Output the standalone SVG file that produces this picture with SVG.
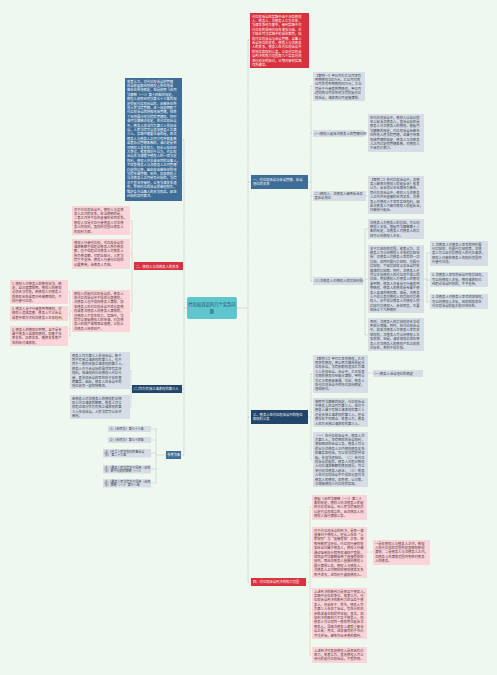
<svg xmlns="http://www.w3.org/2000/svg" width="497" height="675" viewBox="0 0 497 675">
<style>
.t{font-family:"Noto Sans CJK SC","Noto Sans",sans-serif;font-size:3.3px}
.s{font-size:3px}
.w{fill:#ffffff}
.d{fill:#38404c}
.p{fill:#5a3038}
.red{fill:#d8323e}
.blue{fill:#3e6d97}
.navy{fill:#22456b}
.gray{fill:#d6dde6}
.pink{fill:#f9d5da}
.c{fill:none;stroke:#9eabb9;stroke-width:0.6;stroke-dasharray:1 0.8}
.cr{fill:none;stroke:#e2959f;stroke-width:0.6;stroke-dasharray:1 0.8}
</style>
<rect width="497" height="675" fill="#eff8ef"/>
<g id="connectors">
<path class="c" d="M237,308H248M248,40V582M248,40H250M248,182H251M248,417H251"/>
<path class="cr" d="M248,582H251"/>
<path class="c" d="M187,308H184M184,140V455M184,140H182M184,389H182M184,455H181"/>
<path class="cr" d="M184,266H183"/>
<path class="c" d="M308,182H311M311,86V281M311,86H313M311,133H313M311,196H313M311,281H313M364,133H368M366,196H368"/>
<path class="c" d="M363,281H365M365,229V335M365,229H368M365,279H368M365,335H368M424,279H427M427,253V302M427,253H430M427,280H430M427,302H430"/>
<path class="c" d="M308,417H311M311,374V460M311,374H313M311,412H313M311,460H313M368,373H373"/>
<path class="cr" d="M306,582H310M310,507V655M310,507H312M310,552H312M310,613H312M310,655H312M367,552H373"/>
<path class="cr" d="M134,266H132M132,221V311M132,221H130M132,254H130M132,311H130M72,311H70M70,292V336M70,292H68M70,314H68M70,336H68"/>
<path class="c" d="M132,389H131M131,371V407M131,371H130M131,407H130"/>
<path class="c" d="M166,455H156M156,429V483M156,429H151M156,440H151M156,453H151M156,469H151M156,483H151"/>
</g>
<g id="center">
<rect x="187" y="297" width="50" height="22" rx="2" fill="#5ec6cc"/>
<text class="t" x="212" y="306" text-anchor="middle" style="font-size:4.3px" fill="#1d4a6e"><tspan x="212">代位权诉讼的几个实务问</tspan><tspan x="212" dy="6.5">题</tspan></text>
</g>
<g id="intro-left">
<rect class="blue" x="125" y="78" width="57" height="123"/>
<text class="t w" x="127" y="82.5"><tspan x="127">笔者认为，对代位权诉讼的管辖</tspan><tspan x="127" dy="4.4">应当依据原告即债权人所在地或</tspan><tspan x="127" dy="4.4">被告住所地确定。但是依照《合同</tspan><tspan x="127" dy="4.4">法解释（一）》第十四条的规定，</tspan><tspan x="127" dy="4.4">债权人依照合同法第七十三条的规</tspan><tspan x="127" dy="4.4">定提起代位权诉讼的，由被告住所</tspan><tspan x="127" dy="4.4">地人民法院管辖。这一规定明确了</tspan><tspan x="127" dy="4.4">代位权诉讼的特殊地域管辖，排除</tspan><tspan x="127" dy="4.4">了合同履行地法院的管辖权。同时</tspan><tspan x="127" dy="4.4">该司法解释亦规定，在代位权诉讼</tspan><tspan x="127" dy="4.4">中，债务人应当作为第三人参加诉</tspan><tspan x="127" dy="4.4">讼，人民法院可以追加债务人为第</tspan><tspan x="127" dy="4.4">三人。实践中需要注意的是，若次</tspan><tspan x="127" dy="4.4">债务人与债务人之间订有仲裁条款</tspan><tspan x="127" dy="4.4">或者协议管辖条款的，该约定是否</tspan><tspan x="127" dy="4.4">对债权人发生效力，理论上存在较</tspan><tspan x="127" dy="4.4">大争议。笔者倾向于认为，代位权</tspan><tspan x="127" dy="4.4">诉讼系法律赋予债权人的一项法定</tspan><tspan x="127" dy="4.4">权利，债权人并非该合同的当事人，</tspan><tspan x="127" dy="4.4">不应受债务人与次债务人之间管辖</tspan><tspan x="127" dy="4.4">约定的约束，因此应由被告住所地</tspan><tspan x="127" dy="4.4">法院专属管辖。另外，如果债权人</tspan><tspan x="127" dy="4.4">与次债务人之间另有纠纷的，法院</tspan><tspan x="127" dy="4.4">亦不宜合并审理，以免法律关系混</tspan><tspan x="127" dy="4.4">杂，影响代位权诉讼的审理效率，</tspan><tspan x="127" dy="4.4">维护各方当事人的合法权益，促进</tspan><tspan x="127" dy="4.4">纠纷的及时解决。</tspan></text>
</g>
<g id="n-relation">
<rect class="red" x="134" y="262" width="49" height="8"/>
<text class="t w" x="136" y="267.5">二、债权人与次债务人的关系</text>
</g>
<g id="p1">
<rect class="pink" x="72" y="206" width="58" height="29"/>
<text class="t p" x="74" y="210.5"><tspan x="74">对于代位权诉讼中，债权人与次债</tspan><tspan x="74" dy="4.4">务人之间的关系，应当明确的是，</tspan><tspan x="74" dy="4.4">二者之间并不存在直接的合同关系，</tspan><tspan x="74" dy="4.4">债权人仅是代位行使债务人对次债</tspan><tspan x="74" dy="4.4">务人的权利，其权利范围以债务人</tspan><tspan x="74" dy="4.4">的权利为限。</tspan></text>
</g>
<g id="p2">
<rect class="pink" x="72" y="239" width="58" height="30"/>
<text class="t p" x="74" y="243.5"><tspan x="74">债权人行使代位权，代位权诉讼的</tspan><tspan x="74" dy="4.4">请求数额不得超过债务人所负债务</tspan><tspan x="74" dy="4.4">额，也不得超过次债务人对债务人</tspan><tspan x="74" dy="4.4">所负债务额。对超出部分，人民法</tspan><tspan x="74" dy="4.4">院不予支持。债权人行使代位权的</tspan><tspan x="74" dy="4.4">必要费用，由债务人负担。</tspan></text>
</g>
<g id="p3">
<rect class="pink" x="72" y="290" width="58" height="42"/>
<text class="t p" x="74" y="294.5"><tspan x="74">债权人提起代位权诉讼后，债务人</tspan><tspan x="74" dy="4.4">在代位权诉讼中不得处分其债权，</tspan><tspan x="74" dy="4.4">次债务人也不得向债务人清偿。如</tspan><tspan x="74" dy="4.4">果债务人在代位权诉讼中处分其债</tspan><tspan x="74" dy="4.4">权或者次债务人向债务人清偿的，</tspan><tspan x="74" dy="4.4">对债权人不发生效力。实践中，法</tspan><tspan x="74" dy="4.4">院可以根据债权人的申请，对次债</tspan><tspan x="74" dy="4.4">务人的财产采取保全措施，以防止</tspan><tspan x="74" dy="4.4">次债务人转移财产。</tspan></text>
</g>
<g id="fl1">
<rect class="pink" x="10" y="280" width="58" height="24"/>
<text class="t p" x="12" y="284.5"><tspan x="12">1. 债权人对债务人的债权合法、确</tspan><tspan x="12" dy="4.4">定，且已届清偿期。债权人的债权</tspan><tspan x="12" dy="4.4">必须合法有效，若债权人对债务人</tspan><tspan x="12" dy="4.4">的债权无效或者已经被撤销的，不</tspan><tspan x="12" dy="4.4">得行使代位权。</tspan></text>
</g>
<g id="fl2">
<rect class="pink" x="10" y="306" width="58" height="15"/>
<text class="t p" x="12" y="310"><tspan x="12">2. 债务人怠于行使其到期债权，对</tspan><tspan x="12" dy="4.4">债权人造成损害。债务人不以诉讼</tspan><tspan x="12" dy="4.4">或者仲裁方式向次债务人主张权利。</tspan></text>
</g>
<g id="fl3">
<rect class="pink" x="10" y="326" width="58" height="20"/>
<text class="t p" x="12" y="330.5"><tspan x="12">3. 债务人的债权已到期，且不是专</tspan><tspan x="12" dy="4.4">属于债务人自身的债权，如基于扶</tspan><tspan x="12" dy="4.4">养关系、抚养关系、赡养关系等产</tspan><tspan x="12" dy="4.4">生的给付请求权。</tspan></text>
</g>
<g id="n-third">
<rect class="navy" x="132" y="385" width="50" height="8"/>
<text class="t w" x="133.5" y="390.3">(二)作为有独立请求权的第三人</text>
</g>
<g id="g1">
<rect class="gray" x="70" y="352" width="60" height="37"/>
<text class="t d" x="72" y="356.5"><tspan x="72">债务人作为第三人参加诉讼，既不</tspan><tspan x="72" dy="4.4">同于有独立请求权的第三人，也不</tspan><tspan x="72" dy="4.4">同于一般的无独立请求权的第三人。</tspan><tspan x="72" dy="4.4">债务人对于诉讼标的虽然享有实体</tspan><tspan x="72" dy="4.4">权利，但该权利已由债权人代位行</tspan><tspan x="72" dy="4.4">使，其参加诉讼的目的在于协助查</tspan><tspan x="72" dy="4.4">明事实。因此，债务人在诉讼中的</tspan><tspan x="72" dy="4.4">地位具有一定的特殊性。</tspan></text>
</g>
<g id="g2">
<rect class="gray" x="70" y="395" width="60" height="24"/>
<text class="t d" x="72" y="399.5"><tspan x="72">若债务人对次债务人的债权超过债</tspan><tspan x="72" dy="4.4">权人代位请求的数额，债务人可以</tspan><tspan x="72" dy="4.4">就超过部分作为有独立请求权的第</tspan><tspan x="72" dy="4.4">三人参加诉讼，人民法院可以合并</tspan><tspan x="72" dy="4.4">审理。</tspan></text>
</g>
<g id="n-law">
<rect class="blue" x="166" y="451" width="15" height="8"/>
<text class="t w" x="167.2" y="456.4">参考法条</text>
</g>
<g id="law1">
<rect class="gray" x="108" y="426" width="43" height="6"/>
<text class="t s d" x="109.5" y="430.2">[1]《合同法》 第七十三条</text>
</g>
<g id="law2">
<rect class="gray" x="108" y="437" width="43" height="6"/>
<text class="t s d" x="109.5" y="441.2">[2]《合同法》 第七十四条</text>
</g>
<g id="law3">
<rect class="gray" x="103" y="449" width="48" height="8.5"/>
<text class="t s d" x="104.5" y="452.5"><tspan x="104.5">[3]《中华人民共和国民事诉讼</tspan><tspan x="104.5" dy="3.6">法》 第二十三条</tspan></text>
</g>
<g id="law4">
<rect class="gray" x="103" y="465" width="48" height="8.5"/>
<text class="t s d" x="104.5" y="468.5"><tspan x="104.5">[4]《最高人民法院关于适用〈合同</tspan><tspan x="104.5" dy="3.6">法〉若干问题的解释（一）》</tspan></text>
</g>
<g id="law5">
<rect class="gray" x="103" y="479" width="48" height="8.5"/>
<text class="t s d" x="104.5" y="482.5"><tspan x="104.5">[5]《最高人民法院关于适用〈合同</tspan><tspan x="104.5" dy="3.6">法〉解释（一）》 第十八条</tspan></text>
</g>
<g id="intro-right">
<rect class="red" x="250" y="13" width="59" height="55"/>
<text class="t w" x="252" y="17.5"><tspan x="252">代位权诉讼在实践中由于涉及债权</tspan><tspan x="252" dy="4.4">人、债务人、次债务人三方主体，</tspan><tspan x="252" dy="4.4">法律关系较为复杂，审判实践中对</tspan><tspan x="252" dy="4.4">代位权的适用仍存在诸多分歧。本</tspan><tspan x="252" dy="4.4">文结合司法实践中的具体案例，拟</tspan><tspan x="252" dy="4.4">就代位权诉讼与诉讼管辖、当事人</tspan><tspan x="252" dy="4.4">诉讼地位的关系，债权人与次债务</tspan><tspan x="252" dy="4.4">人的关系，债务人在代位权诉讼中</tspan><tspan x="252" dy="4.4">的地位和权利义务，以及代位权诉</tspan><tspan x="252" dy="4.4">讼判决的效力范围等几个实务问题</tspan><tspan x="252" dy="4.4">进行初步的探讨，以期对审判实践</tspan><tspan x="252" dy="4.4">有所裨益。</tspan></text>
</g>
<g id="n-one">
<rect class="blue" x="251" y="175" width="57" height="14"/>
<text class="t w" x="253" y="180.5"><tspan x="253">一、代位权诉讼与诉讼管辖、诉讼</tspan><tspan x="253" dy="4.6">地位的关系</tspan></text>
</g>
<g id="case1">
<rect class="gray" x="313" y="72" width="52" height="29"/>
<text class="t d" x="315" y="76.5"><tspan x="315">【案例一】甲公司对乙公司享有</tspan><tspan x="315" dy="4.4">到期债权100万元，乙公司对丙</tspan><tspan x="315" dy="4.4">公司享有到期债权80万元，乙公</tspan><tspan x="315" dy="4.4">司怠于行使其到期债权，甲公司</tspan><tspan x="315" dy="4.4">遂向丙公司住所地法院提起代位</tspan><tspan x="315" dy="4.4">权诉讼，请求丙公司直接清偿。</tspan></text>
</g>
<g id="n-one-1">
<rect class="gray" x="313" y="130" width="51" height="7"/>
<text class="t d" x="314.5" y="134.8">(一)债权人起诉次债务人的管辖问题</text>
</g>
<g id="one-1-a">
<rect class="gray" x="368" y="114" width="56" height="38"/>
<text class="t d" x="370" y="118.5"><tspan x="370">在代位权诉讼中，债权人以自己的</tspan><tspan x="370" dy="4.4">名义起诉次债务人，其诉讼标的是</tspan><tspan x="370" dy="4.4">债务人对次债务人的债权。根据司</tspan><tspan x="370" dy="4.4">法解释的规定，代位权诉讼由被告</tspan><tspan x="370" dy="4.4">住所地人民法院管辖，这属于特殊</tspan><tspan x="370" dy="4.4">地域管辖的规定。债务人与次债务</tspan><tspan x="370" dy="4.4">人之间约定的管辖条款，对债权人</tspan><tspan x="370" dy="4.4">不具有约束力。</tspan></text>
</g>
<g id="n-one-2">
<rect class="gray" x="313" y="191" width="53" height="10"/>
<text class="t d" x="314.5" y="195"><tspan x="314.5">(二)债权人、次债务人能否反诉及</tspan><tspan x="314.5" dy="4.2">其诉讼地位</tspan></text>
</g>
<g id="one-2-a">
<rect class="gray" x="368" y="176" width="56" height="38"/>
<text class="t d" x="370" y="180.5"><tspan x="370">【案例二】在代位权诉讼中，次债</tspan><tspan x="370" dy="4.4">务人能否对债权人提起反诉？笔者</tspan><tspan x="370" dy="4.4">认为，反诉须以本诉原告为被告，</tspan><tspan x="370" dy="4.4">而代位权诉讼中，债权人与次债务</tspan><tspan x="370" dy="4.4">人之间并无直接的合同关系，次债</tspan><tspan x="370" dy="4.4">务人对债权人不享有实体权利，因</tspan><tspan x="370" dy="4.4">此次债务人不能对债权人提起反诉，</tspan><tspan x="370" dy="4.4">只能另行起诉。</tspan></text>
</g>
<g id="n-one-3">
<rect class="gray" x="313" y="277" width="50" height="8"/>
<text class="t d" x="314.5" y="282.2">(三)次债务人对债权人的抗辩问题</text>
</g>
<g id="one-3-a">
<rect class="gray" x="368" y="219" width="56" height="20"/>
<text class="t d" x="370" y="223.5"><tspan x="370">次债务人对债务人的抗辩，可以向</tspan><tspan x="370" dy="4.4">债权人主张。根据司法解释第十八</tspan><tspan x="370" dy="4.4">条的规定，次债务人对债务人的抗</tspan><tspan x="370" dy="4.4">辩可以向债权人主张。</tspan></text>
</g>
<g id="one-3-b">
<rect class="gray" x="368" y="245" width="56" height="68"/>
<text class="t d" x="370" y="249.5"><tspan x="370">关于抗辩权的范围，笔者认为，次</tspan><tspan x="370" dy="4.4">债务人可以向债权人主张的抗辩包</tspan><tspan x="370" dy="4.4">括：次债务人对债务人享有的一切</tspan><tspan x="370" dy="4.4">抗辩，如同时履行抗辩权、先履行</tspan><tspan x="370" dy="4.4">抗辩权、不安抗辩权以及诉讼时效</tspan><tspan x="370" dy="4.4">届满的抗辩等。同时，次债务人还</tspan><tspan x="370" dy="4.4">可以主张债权人的代位权不成立的</tspan><tspan x="370" dy="4.4">抗辩，例如债权人对债务人的债权</tspan><tspan x="370" dy="4.4">未到期、债务人并未怠于行使其到</tspan><tspan x="370" dy="4.4">期债权、债务人的债权是专属于债</tspan><tspan x="370" dy="4.4">务人自身的债权等。但是，次债务</tspan><tspan x="370" dy="4.4">人不得以其对债权人的抗辩对抗债</tspan><tspan x="370" dy="4.4">权人，亦不得以债务人对债权人的</tspan><tspan x="370" dy="4.4">抗辩对抗债权人。具体而言，主要</tspan><tspan x="370" dy="4.4">包括以下几种情形：</tspan></text>
</g>
<g id="one-3-c">
<rect class="gray" x="368" y="318" width="56" height="33"/>
<text class="t d" x="370" y="322.5"><tspan x="370">否则，次债务人的抗辩权将无法得</tspan><tspan x="370" dy="4.4">到充分保障。同时，在代位权诉讼</tspan><tspan x="370" dy="4.4">中，如果次债务人对债务人享有抵</tspan><tspan x="370" dy="4.4">销权的，次债务人可以向债权人主</tspan><tspan x="370" dy="4.4">张抵销。但是，该抵销权必须在债</tspan><tspan x="370" dy="4.4">务人对次债务人的债权产生之前即</tspan><tspan x="370" dy="4.4">已存在，否则不得主张。</tspan></text>
</g>
<g id="fr1">
<rect class="gray" x="430" y="241" width="58" height="25"/>
<text class="t d" x="432" y="245.5"><tspan x="432">1. 次债务人对债务人享有的同时履</tspan><tspan x="432" dy="4.4">行抗辩权、先履行抗辩权等，次债</tspan><tspan x="432" dy="4.4">务人可以此对抗债权人的代位请求，</tspan><tspan x="432" dy="4.4">债权人只能在债务人的权利范围内</tspan><tspan x="432" dy="4.4">行使代位权。</tspan></text>
</g>
<g id="fr2">
<rect class="gray" x="430" y="272" width="58" height="15"/>
<text class="t d" x="432" y="276.2"><tspan x="432">2. 次债务人享有的诉讼时效抗辩权，</tspan><tspan x="432" dy="4.4">可以向债权人主张，债权请求权已</tspan><tspan x="432" dy="4.4">经超过诉讼时效的，不予支持。</tspan></text>
</g>
<g id="fr3">
<rect class="gray" x="430" y="294" width="58" height="15"/>
<text class="t d" x="432" y="298.2"><tspan x="432">3. 次债务人对债务人享有的抵销权，</tspan><tspan x="432" dy="4.4">可以向债权人主张，但抵销权须在</tspan><tspan x="432" dy="4.4">代位权诉讼提起之前已经存在。</tspan></text>
</g>
<g id="n-three">
<rect class="navy" x="251" y="410" width="57" height="14"/>
<text class="t w" x="253" y="415.5"><tspan x="253">三、债务人在代位权诉讼中的地位</tspan><tspan x="253" dy="4.6">和权利义务</tspan></text>
</g>
<g id="three-a">
<rect class="gray" x="313" y="355" width="55" height="38"/>
<text class="t d" x="315" y="359.5"><tspan x="315">【案例三】甲对乙享有债权，乙对</tspan><tspan x="315" dy="4.4">丙享有债权，甲以丙为被告提起代</tspan><tspan x="315" dy="4.4">位权诉讼，法院依职权追加乙为第</tspan><tspan x="315" dy="4.4">三人参加诉讼。诉讼中，乙主张其</tspan><tspan x="315" dy="4.4">对丙的债权已经部分清偿，甲则认</tspan><tspan x="315" dy="4.4">为乙与丙恶意串通。对此，债务人</tspan><tspan x="315" dy="4.4">在代位权诉讼中的地位如何确定，</tspan><tspan x="315" dy="4.4">值得研究。</tspan></text>
</g>
<g id="three-a-1">
<rect class="gray" x="373" y="370" width="50" height="7"/>
<text class="t d" x="374.5" y="374.8">(一)债务人诉讼地位的确定</text>
</g>
<g id="three-b">
<rect class="gray" x="313" y="398" width="55" height="29"/>
<text class="t d" x="315" y="402.5"><tspan x="315">按照司法解释的规定，代位权诉讼</tspan><tspan x="315" dy="4.4">中债务人应当列为第三人。但对于</tspan><tspan x="315" dy="4.4">债务人属于有独立请求权的第三人</tspan><tspan x="315" dy="4.4">还是无独立请求权的第三人，理论</tspan><tspan x="315" dy="4.4">界存在不同观点。笔者认为，债务</tspan><tspan x="315" dy="4.4">人应为无独立请求权的第三人。</tspan></text>
</g>
<g id="three-c">
<rect class="gray" x="313" y="432" width="55" height="55"/>
<text class="t d" x="315" y="436.5"><tspan x="315">（一）在代位权诉讼中，债务人作</tspan><tspan x="315" dy="4.4">为第三人，享有相应的诉讼权利，</tspan><tspan x="315" dy="4.4">承担相应的诉讼义务。债务人可以</tspan><tspan x="315" dy="4.4">提出与次债务人之间债权债务关系</tspan><tspan x="315" dy="4.4">的事实和理由，可以向法院提供证</tspan><tspan x="315" dy="4.4">据，参加法庭辩论。（二）在代位</tspan><tspan x="315" dy="4.4">权诉讼提起后，债务人对超过债权</tspan><tspan x="315" dy="4.4">人代位请求数额的债权部分，可以</tspan><tspan x="315" dy="4.4">另行向次债务人起诉。（三）债务</tspan><tspan x="315" dy="4.4">人在代位权诉讼中不得处分其对次</tspan><tspan x="315" dy="4.4">债务人的债权，如免除、让与等，</tspan><tspan x="315" dy="4.4">以保障债权人代位权的实现。</tspan></text>
</g>
<g id="n-four">
<rect class="red" x="251" y="578" width="55" height="8"/>
<text class="t w" x="253" y="583.3">四、代位权诉讼判决的效力范围</text>
</g>
<g id="four-a">
<rect class="pink" x="312" y="495" width="55" height="25"/>
<text class="t p" x="314" y="499.5"><tspan x="314">根据《合同法解释（一）》第二十</tspan><tspan x="314" dy="4.4">条的规定，债权人向次债务人提起</tspan><tspan x="314" dy="4.4">的代位权诉讼，经人民法院审理后</tspan><tspan x="314" dy="4.4">认定代位权成立的，由次债务人向</tspan><tspan x="314" dy="4.4">债权人履行清偿义务。</tspan></text>
</g>
<g id="four-b">
<rect class="pink" x="312" y="527" width="55" height="51"/>
<text class="t p" x="314" y="531.5"><tspan x="314">对于代位权诉讼的判决，是否一律</tspan><tspan x="314" dy="4.4">直接归于债权人，理论上存在“入</tspan><tspan x="314" dy="4.4">库规则”与“直接受偿”之争。按</tspan><tspan x="314" dy="4.4">照传统民法理论，代位权行使的效</tspan><tspan x="314" dy="4.4">果应当归属于债务人，债权人只能</tspan><tspan x="314" dy="4.4">通过强制执行程序就该财产受偿。</tspan><tspan x="314" dy="4.4">但我国司法解释采用了直接受偿的</tspan><tspan x="314" dy="4.4">规则，即由次债务人直接向债权人</tspan><tspan x="314" dy="4.4">履行清偿义务，债权人与债务人、</tspan><tspan x="314" dy="4.4">次债务人之间相应的债权债务关系</tspan><tspan x="314" dy="4.4">即予消灭，这有利于鼓励债权人。</tspan></text>
</g>
<g id="four-b-1">
<rect class="pink" x="373" y="540" width="57" height="25"/>
<text class="t p" x="375" y="544.5"><tspan x="375">一是在债权人与债务人之间，债权</tspan><tspan x="375" dy="4.4">人在代位权的范围内就其债权获得</tspan><tspan x="375" dy="4.4">清偿；二是债务人与次债务人之间，</tspan><tspan x="375" dy="4.4">次债务人在清偿范围内免除对债务</tspan><tspan x="375" dy="4.4">人的债务。</tspan></text>
</g>
<g id="four-c">
<rect class="pink" x="312" y="588" width="55" height="51"/>
<text class="t p" x="314" y="592.5"><tspan x="314">上述判决的既判力是否及于债务人，</tspan><tspan x="314" dy="4.4">实践中亦存在争议。笔者认为，代</tspan><tspan x="314" dy="4.4">位权诉讼判决的既判力应当及于债</tspan><tspan x="314" dy="4.4">务人。理由在于：首先，债务人作</tspan><tspan x="314" dy="4.4">为第三人参加了诉讼，有充分的机</tspan><tspan x="314" dy="4.4">会陈述意见和提供证据；其次，如</tspan><tspan x="314" dy="4.4">果判决的既判力不及于债务人，则</tspan><tspan x="314" dy="4.4">债务人可以就同一债权再次起诉次</tspan><tspan x="314" dy="4.4">债务人，导致次债务人遭受重复诉</tspan><tspan x="314" dy="4.4">讼之累；再次，这样做有利于节约</tspan><tspan x="314" dy="4.4">司法资源，避免作出矛盾的裁判。</tspan></text>
</g>
<g id="four-d">
<rect class="pink" x="312" y="647" width="55" height="16"/>
<text class="t p" x="314" y="651.5"><tspan x="314">上述判决对其他债权人是否具有约</tspan><tspan x="314" dy="4.4">束力，笔者认为，其他债权人可以</tspan><tspan x="314" dy="4.4">另行提起代位权诉讼，不受影响。</tspan></text>
</g>
</svg>
